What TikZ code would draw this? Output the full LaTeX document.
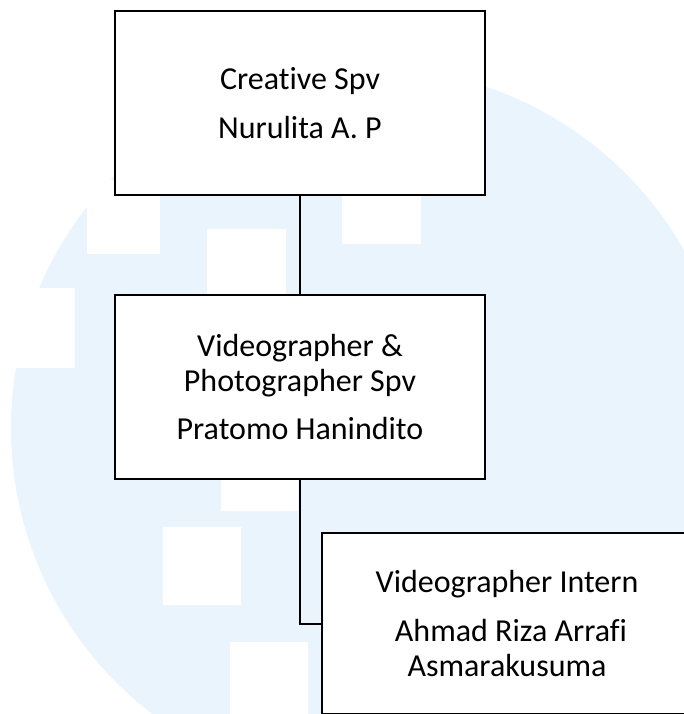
\documentclass[tikz,border=0pt]{standalone}
\usepackage{fontspec}
\setmainfont{Carlito}[Ligatures=NoCommon]
\usetikzlibrary{positioning}
\definecolor{watermark}{RGB}{234,244,253}
\tikzset{
	box/.style = {
		draw = black,
		fill = white,
		line width = 1pt,
		rectangle,
		text centered,
		inner sep = 0pt,
		minimum height = 92pt,
		minimum width = 185pt,
		font = \fontsize{16pt}{17.5pt}\selectfont
	}
}

\begin{document}
\begin{tikzpicture}
	\clip (0,0) rectangle (342pt,-357pt) ;
	\fill [watermark] (185.5pt,-214pt) circle (180pt) ;
	\fill [white] (43.5pt,-90pt) rectangle (80pt,-127pt)
		(103.5pt,-114.5pt) rectangle (143pt,-153.5pt)
		(-5pt,-144pt) rectangle (37.5pt,-184pt)
		(171pt,-83pt) rectangle (210.5pt,-122pt)
		(110.5pt,-216.5pt) rectangle (149pt,-255.5pt)
		(81.5pt,-263.5pt) rectangle (120.5pt,-302.5pt)
		(115pt,-321pt) rectangle (154pt,-360pt) ;

	\node [box] (spv) at (150pt,-51.5pt) {\parbox{180pt}{\centering{}Creative Spv\\[7pt]Nurulita A. P}} ;
	\node [box, below = 49pt of spv] (video) {\parbox{180pt}{\centering{}Videographer \&\\Photographer Spv\\[7pt]Pratomo Hanindito}} ;
	\node [box, minimum height = 90.5pt, below right = 26pt and 10.5pt of video.south] (intern) {\parbox{180pt}{\centering{}Videographer Intern\\[7pt]\hspace*{4pt}Ahmad Riza Arrafi\\Asmarakusuma}} ;

	\draw [line width = 1pt] (spv) -- (video) ;
	\draw [line width = 1pt] (video) |- (intern) ;
\end{tikzpicture}
\end{document}
